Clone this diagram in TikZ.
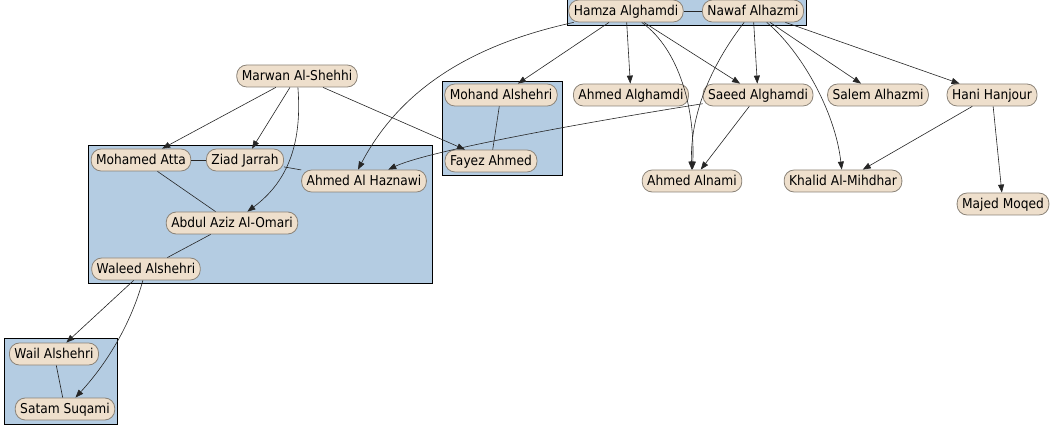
\documentclass[tikz,border=0pt]{standalone}
\usepackage{fontspec}
\setmainfont{DejaVu Sans}[FakeStretch=0.9]
\usetikzlibrary{arrows.meta}
\definecolor{nodefill}{HTML}{EEDFCC}
\definecolor{nodeline}{HTML}{8B8378}
\definecolor{clusterfill}{HTML}{B4CCE2}
\tikzset{
  person/.style={draw=nodeline, fill=nodefill, line width=0.8pt, rounded corners=10pt,
    minimum height=22pt, inner xsep=5pt, inner ysep=0pt, text height=9.8pt, text depth=0pt,
    font=\fontsize{13.6}{16}\selectfont},
  cluster/.style={draw=black, fill=clusterfill, line width=0.9pt},
  arr/.style={draw=black!85, line width=0.6pt, -{Triangle[length=8pt,width=6pt]}},
  link/.style={draw=black!85, line width=0.6pt}
}
\begin{document}
\begin{tikzpicture}[x=1pt,y=-1pt]
\useasboundingbox (0,0) rectangle (1060,438);
\fill[white] (0,0) rectangle (1060,438);
% clusters
\path[cluster] (567,-8) rectangle (806,25);
\path[cluster] (88,145) rectangle (432,283);
\path[cluster] (442,81) rectangle (562,175);
\path[cluster] (4,338) rectangle (117,424);
% nodes
\node[person] (hamza) at (626,11) {Hamza Alghamdi};
\node[person] (nawaf) at (753,11) {Nawaf Alhazmi};
\node[person] (marwan) at (297,76) {Marwan Al-Shehhi};
\node[person] (atta) at (141,160) {Mohamed Atta};
\node[person] (jarrah) at (245,160) {Ziad Jarrah};
\node[person] (haznawi) at (364,181) {Ahmed Al Haznawi};
\node[person] (omari) at (232,223) {Abdul Aziz Al-Omari};
\node[person] (waleed) at (146,269) {Waleed Alshehri};
\node[person] (mohand) at (501,95) {Mohand Alshehri};
\node[person] (fayez) at (491,161) {Fayez Ahmed};
\node[person] (aalghamdi) at (631,95) {Ahmed Alghamdi};
\node[person] (saeed) at (758,95) {Saeed Alghamdi};
\node[person] (salem) at (878,95) {Salem Alhazmi};
\node[person] (hani) at (992,95) {Hani Hanjour};
\node[person] (alnami) at (692,181) {Ahmed Alnami};
\node[person] (khalid) at (843,181) {Khalid Al-Mihdhar};
\node[person] (majed) at (1003,204) {Majed Moqed};
\node[person] (wail) at (54,354) {Wail Alshehri};
\node[person] (satam) at (65,409) {Satam Suqami};
% undirected links
\draw[link] (hamza) -- (nawaf);
\draw[link] (atta) -- (jarrah);
\draw[link] (jarrah) -- (haznawi);
\draw[link] (atta) -- (omari);
\draw[link] (omari) -- (waleed);
\draw[link] (mohand) -- (fayez);
\draw[link] (wail) -- (satam);
% directed edges
\draw[arr] (marwan) -- (atta);
\draw[arr] (marwan) -- (jarrah);
\draw[arr] (marwan) .. controls (302,140) and (290,180) .. (omari);
\draw[arr] (marwan) -- (fayez);
\draw[arr] (hamza) .. controls (470,45) and (400,90) .. ([xshift=-6pt]haznawi.north);
\draw[arr] (hamza) -- (mohand);
\draw[arr] (hamza) -- (aalghamdi);
\draw[arr] (hamza) -- (saeed);
\draw[arr] (hamza) .. controls (680,50) and (695,110) .. (alnami);
\draw[arr] (nawaf) .. controls (715,60) and (690,110) .. (alnami);
\draw[arr] (nawaf) -- (saeed);
\draw[arr] (nawaf) .. controls (800,50) and (835,110) .. (khalid);
\draw[arr] (nawaf) -- (salem);
\draw[arr] (nawaf) -- (hani);
\draw[arr] (saeed) .. controls (600,120) and (430,150) .. (haznawi);
\draw[arr] (saeed) -- (alnami);
\draw[arr] (hani) -- (khalid);
\draw[arr] (hani) -- (majed);
\draw[arr] (waleed) -- (wail);
\draw[arr] (waleed) .. controls (132,320) and (110,360) .. (satam);
\end{tikzpicture}
\end{document}
